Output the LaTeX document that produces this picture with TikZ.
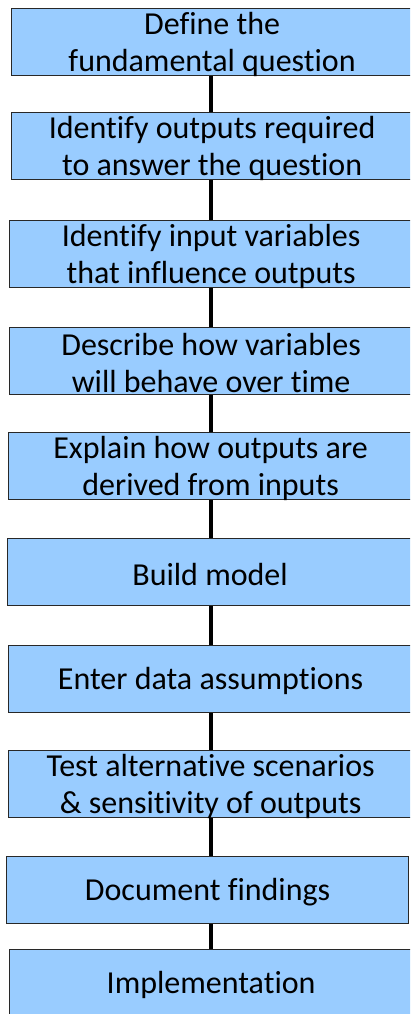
\documentclass[tikz,border=0pt]{standalone}
\usepackage{fontspec}
\setmainfont{Carlito}[Ligatures={CommonOff}]
\definecolor{boxfill}{RGB}{153,204,255}
\definecolor{boxline}{RGB}{40,40,40}
\tikzset{
  stepbox/.style={draw=boxline, line width=1.2pt, fill=boxfill, rectangle, inner sep=0pt,
    align=center, font=\fontsize{32}{37}\selectfont, text=black},
  link/.style={line width=4pt, draw=black}
}
\begin{document}
\begin{tikzpicture}[x=1pt,y=-1pt]
\useasboundingbox (0,0) rectangle (410,1014);
\clip (0,0) rectangle (410,1014);
\fill[white] (0,0) rectangle (410,1014);
\newcommand{\stepnode}[5]{%
  \node[stepbox, minimum width={#3-#2}, minimum height=67pt, anchor=north west] (#1) at (#2,#4) {\raisebox{-2pt}{\shortstack{#5}}};}
\renewcommand{\stepnode}[5]{%
  \node[stepbox, minimum width={#3-#2}, minimum height=67pt, anchor=north west] (#1) at (#2,#4) {};
  \node[font=\fontsize{32}{37}\selectfont, align=center, inner sep=0pt] (#1t) at ([yshift=-2pt]#1.center) {#5};}
\stepnode{s1}{11}{412}{8}{Define the\\fundamental question}
\stepnode{s2}{11}{412}{112}{Identify outputs required\\to answer the question}
\stepnode{s3}{9}{412}{220}{Identify input variables\\that influence outputs}
\stepnode{s4}{9}{412}{327}{Describe how variables\\will behave over time}
\stepnode{s5}{8}{412}{432}{Explain how outputs are\\derived from inputs}
\stepnode{s6}{7}{412}{538}{Build model}
\stepnode{s7}{8}{412}{645}{Enter data assumptions}
\stepnode{s8}{8}{412}{750}{Test alternative scenarios\\\& sensitivity of outputs}
\stepnode{s9}{6}{408}{856}{Document findings}
\stepnode{s10}{9}{412}{949}{Implementation}
\foreach \a/\b in {s1/s2,s2/s3,s3/s4,s4/s5,s5/s6,s6/s7,s7/s8,s8/s9,s9/s10}{
  \draw[link] (\a.south -| 211,0) -- (\b.north -| 211,0);
}
\end{tikzpicture}
\end{document}
